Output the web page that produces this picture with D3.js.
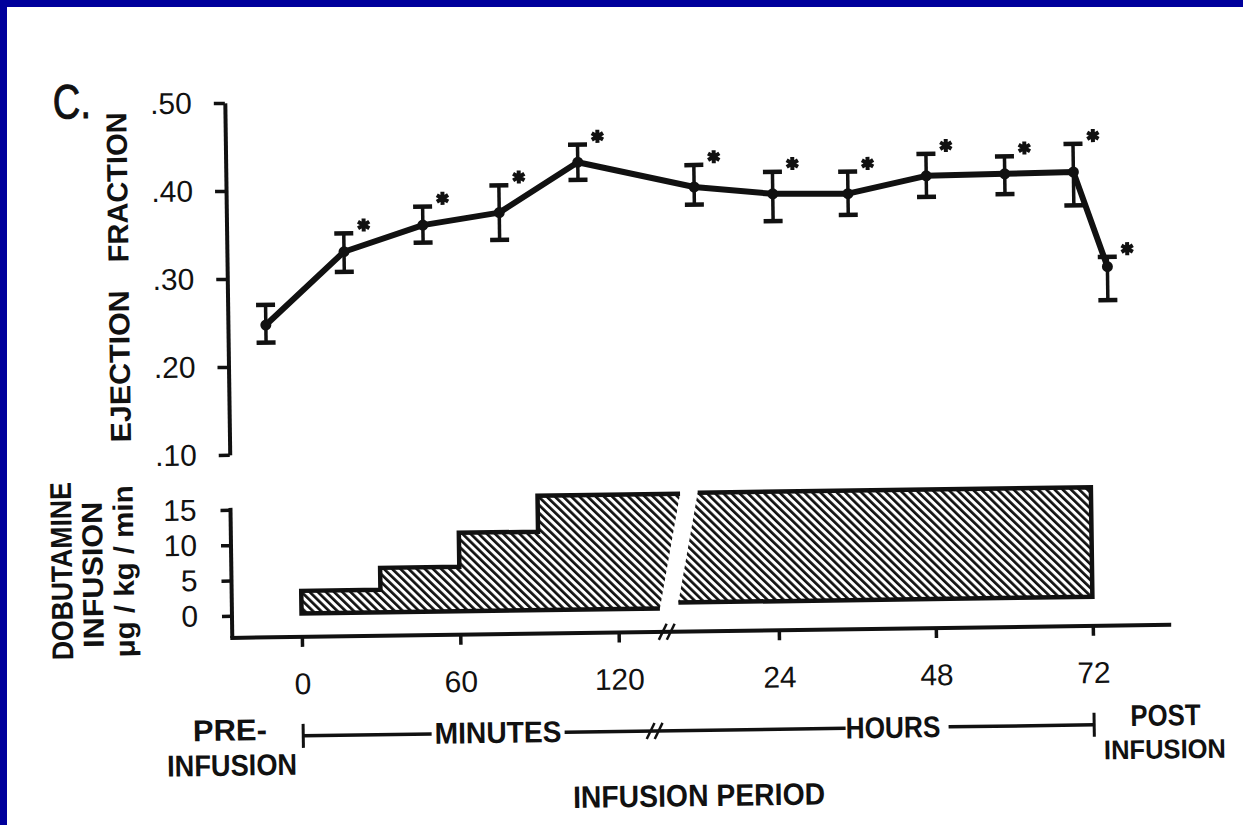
<!DOCTYPE html>
<html>
<head>
<meta charset="utf-8">
<script src="https://cdn.jsdelivr.net/npm/d3@7"></script>
<style>
  html, body { margin: 0; padding: 0; background: #fff; }
  svg { display: block; }
  text { font-family: "Liberation Sans", Arial, sans-serif; fill: #111; }
</style>
</head>
<body>
<svg id="chart" width="1243" height="825"></svg>
<script>
// ejection fraction
// first 5 points are on the minutes scale (first = pre-infusion), the rest on the hours scale (last = post infusion)
var efMinutes = [-12, 18, 48, 77, 107];
var efHours = [12, 24, 35.5, 47.5, 59.5, 70, 75];
var efMean = [0.247, 0.329, 0.358, 0.371, 0.427, 0.397, 0.388, 0.387, 0.406, 0.407, 0.408, 0.300];
var efLow = [0.227, 0.306, 0.338, 0.340, 0.407, 0.377, 0.357, 0.363, 0.382, 0.384, 0.370, 0.262];
var efHigh = [0.270, 0.350, 0.379, 0.402, 0.447, 0.422, 0.413, 0.412, 0.431, 0.427, 0.440, 0.311];
var efSignificant = [false, true, true, true, true, true, true, true, true, true, true, true];

// dobutamine infusion steps (ug/kg/min)
var doseStepStart = [0, 30, 60, 90];
var doseStepValue = [3.4, 6.5, 11.3, 16.4];
var doseHoursEnd = 72;
var doseHoursValue = 16.5;

// tick labels
var efTicks = [0.10, 0.20, 0.30, 0.40, 0.50];
var efTickLabels = [".10", ".20", ".30", ".40", ".50"];
var doseTicks = [0, 5, 10, 15];
var minuteTicks = [0, 60, 120];
var hourTicks = [24, 48, 72];

var ink = "#111";
var svg = d3.select("#chart");

svg.append("rect").attr("width", 1243).attr("height", 825).attr("fill", "#fff");
svg.append("rect").attr("width", 1243).attr("height", 7).attr("fill", "#00009c");
svg.append("rect").attr("width", 7).attr("height", 825).attr("fill", "#00009c");

var pat = svg.append("defs").append("pattern")
  .attr("id", "hatch")
  .attr("patternUnits", "userSpaceOnUse")
  .attr("width", 5.7).attr("height", 5.7)
  .attr("patternTransform", "rotate(-45)");
pat.append("rect").attr("width", 5.7).attr("height", 5.7).attr("fill", "#fff");
pat.append("rect").attr("width", 2.7).attr("height", 5.7).attr("fill", ink);

// the scan is slightly tilted
var g = svg.append("g").attr("transform", "rotate(-0.8,650,400)");

var xMin = d3.scaleLinear().domain([0, 120]).range([298.6, 615.4]);
var xHr = d3.scaleLinear().domain([24, 72]).range([775.6, 1089.6]);
var yEF = d3.scaleLinear().domain([0.10, 0.50]).range([449, 97]);
var yDose = d3.scaleLinear().domain([0, 15]).range([610, 504]);

var axisX = 229, baseY = 632;

function caption(parent, txt, cx, cy, size, width, opts) {
  opts = opts || {};
  var t = parent.append("text")
    .attr("text-anchor", "middle")
    .attr("font-size", size)
    .attr("font-weight", opts.weight || "bold")
    .attr("textLength", width)
    .attr("lengthAdjust", "spacingAndGlyphs")
    .text(txt);
  var shift = opts.shift != null ? opts.shift : size * 0.358;
  if (opts.vertical) {
    t.attr("transform", "translate(" + (cx + shift) + "," + cy + ") rotate(-90)");
  } else {
    t.attr("x", cx).attr("y", cy + shift);
  }
  return t;
}

function styleAxis(ax, size) {
  ax.attr("font-size", size).attr("font-family", null);
  ax.selectAll(".tick line").attr("stroke", ink).attr("stroke-width", 3.5);
  ax.selectAll(".tick text").attr("fill", ink);
}

// ---- upper panel: ejection fraction ----
var axEF = g.append("g").attr("transform", "translate(" + axisX + ",0)")
  .call(d3.axisLeft(yEF).tickValues(efTicks)
    .tickFormat(function(d, i) { return efTickLabels[i]; })
    .tickSize(11).tickSizeOuter(0).tickPadding(22));
axEF.select(".domain").attr("stroke", ink).attr("stroke-width", 4);
styleAxis(axEF, 30);

caption(g, "FRACTION", 120, 180, 29, 150, {vertical: true});
caption(g, "EJECTION", 120, 359, 29, 152, {vertical: true});
caption(g, "C.", 76, 93, 48, 38, {weight: "normal"})
  .attr("stroke", ink).attr("stroke-width", 1);

var points = efMean.map(function(v, i) {
  var n = efMinutes.length;
  var x = i < n ? xMin(efMinutes[i]) : xHr(efHours[i - n]);
  return {x: x, y: yEF(v), lo: yEF(efLow[i]), hi: yEF(efHigh[i]), sig: efSignificant[i]};
});

var bars = g.append("g").attr("stroke", ink);
bars.selectAll(".stem").data(points).enter().append("line")
  .attr("x1", function(d) { return d.x; }).attr("x2", function(d) { return d.x; })
  .attr("y1", function(d) { return d.lo; }).attr("y2", function(d) { return d.hi; })
  .attr("stroke-width", 3.5);
bars.selectAll(".capHi").data(points).enter().append("line")
  .attr("x1", function(d) { return d.x - 9.5; }).attr("x2", function(d) { return d.x + 9.5; })
  .attr("y1", function(d) { return d.hi; }).attr("y2", function(d) { return d.hi; })
  .attr("stroke-width", 4.5);
bars.selectAll(".capLo").data(points).enter().append("line")
  .attr("x1", function(d) { return d.x - 9.5; }).attr("x2", function(d) { return d.x + 9.5; })
  .attr("y1", function(d) { return d.lo; }).attr("y2", function(d) { return d.lo; })
  .attr("stroke-width", 4.5);

g.append("path").datum(points)
  .attr("fill", "none").attr("stroke", ink).attr("stroke-width", 6)
  .attr("stroke-linejoin", "round").attr("stroke-linecap", "round")
  .attr("d", d3.line().x(function(d) { return d.x; }).y(function(d) { return d.y; }));

g.selectAll(".dot").data(points).enter().append("circle")
  .attr("cx", function(d) { return d.x; }).attr("cy", function(d) { return d.y; })
  .attr("r", 5.5).attr("fill", ink);

g.selectAll(".star").data(points.filter(function(d) { return d.sig; })).enter().append("path")
  .attr("transform", function(d) { return "translate(" + (d.x + 20) + "," + (d.hi - 8) + ")"; })
  .attr("d", d3.symbol().type(d3.symbolAsterisk).size(120))
  .attr("fill", "none").attr("stroke", ink).attr("stroke-width", 4);

// ---- lower panel: dobutamine infusion ----
var axDose = g.append("g").attr("transform", "translate(" + axisX + ",0)")
  .call(d3.axisLeft(yDose).tickValues(doseTicks).tickSize(10).tickSizeOuter(0).tickPadding(24));
axDose.select(".domain").remove();
styleAxis(axDose, 30);
g.append("line").attr("x1", axisX).attr("x2", axisX).attr("y1", 502).attr("y2", baseY)
  .attr("stroke", ink).attr("stroke-width", 4);

caption(g, "DOBUTAMINE", 59, 563, 30, 178, {vertical: true});
caption(g, "INFUSION", 90, 567, 29, 146, {vertical: true});
caption(g, "\u03bcg / kg / min", 124, 564, 28, 172, {vertical: true, shift: 7.3});

// hatched dose steps, split by the axis break
function breakEdge(y) { return 657 + (608.5 - y) * 0.19; }
var gapW = 17.5;
var line = d3.line();

var ybL = yDose(0.2);
var outL = [[breakEdge(yDose(doseStepValue[3])), yDose(doseStepValue[3])]];
for (var i = doseStepStart.length - 1; i >= 0; i--) {
  outL.push([xMin(doseStepStart[i]), yDose(doseStepValue[i])]);
  if (i > 0) outL.push([xMin(doseStepStart[i]), yDose(doseStepValue[i - 1])]);
}
outL.push([xMin(doseStepStart[0]), ybL]);
outL.push([breakEdge(ybL), ybL]);

var ytR = yDose(doseHoursValue), ybR = yDose(1.0);
var outR = [[breakEdge(ytR) + gapW, ytR], [xHr(doseHoursEnd), ytR], [xHr(doseHoursEnd), ybR], [breakEdge(ybR) + gapW, ybR]];

[outL, outR].forEach(function(pts) {
  g.append("path").attr("d", line(pts) + "Z").attr("fill", "url(#hatch)");
  g.append("path").attr("d", line(pts)).attr("fill", "none")
    .attr("stroke", ink).attr("stroke-width", 4.5).attr("stroke-linejoin", "miter");
});

// ---- time axis ----
g.append("line").attr("x1", axisX - 2).attr("x2", 1168).attr("y1", baseY).attr("y2", baseY)
  .attr("stroke", ink).attr("stroke-width", 4);

[[xMin, minuteTicks], [xHr, hourTicks]].forEach(function(p) {
  var ax = g.append("g").attr("transform", "translate(0," + baseY + ")")
    .call(d3.axisBottom(p[0]).tickValues(p[1]).tickSize(10).tickPadding(26));
  ax.select(".domain").remove();
  styleAxis(ax, 30);
});

function slashes(cx, cy) {
  [-4, 4].forEach(function(o) {
    g.append("line")
      .attr("x1", cx + o - 4).attr("y1", cy + 8)
      .attr("x2", cx + o + 4).attr("y2", cy - 8)
      .attr("stroke", ink).attr("stroke-width", 2.5);
  });
}
slashes(663.5, baseY);

// ---- infusion period bracket ----
var brY = 731;
var x0 = xMin(0), x72 = xHr(72);
var segs = [[x0, 427], [560, 841], [944, x72]];
segs.forEach(function(s) {
  g.append("line").attr("x1", s[0]).attr("x2", s[1]).attr("y1", brY).attr("y2", brY)
    .attr("stroke", ink).attr("stroke-width", 3.5);
});
[x0, x72].forEach(function(x) {
  g.append("line").attr("x1", x).attr("x2", x).attr("y1", brY - 12).attr("y2", brY + 12)
    .attr("stroke", ink).attr("stroke-width", 3);
});
slashes(650, brY);

caption(g, "MINUTES", 493.4, 730, 30, 127);
caption(g, "HOURS", 888.4, 730.4, 30, 95);
caption(g, "PRE-", 225.4, 724, 30, 74);
caption(g, "INFUSION", 227, 759, 30, 130);
caption(g, "POST", 1161, 722, 30, 70);
caption(g, "INFUSION", 1160, 756, 27, 122);
caption(g, "INFUSION  PERIOD", 693.5, 795.7, 31, 252);
</script>
</body>
</html>
